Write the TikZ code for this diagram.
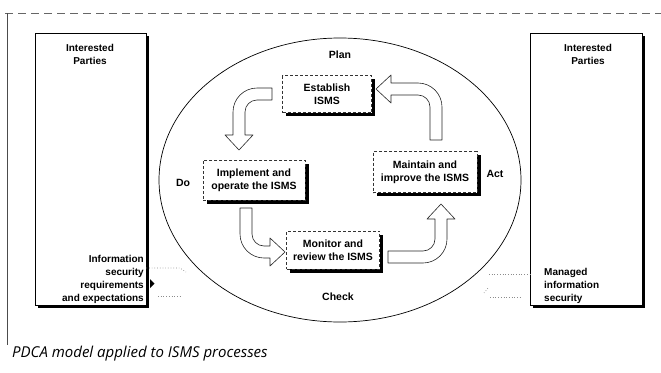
\documentclass[tikz,border=0pt]{standalone}
\usepackage{fontspec}
\setmainfont{Liberation Sans}
\newfontfamily\capfont{Open Sans}
\usetikzlibrary{shadows}
\newcommand{\bentarrow}[2]{%
  \draw[arrowline] (#1,0) -- (24,0) arc[start angle=270, end angle=180, radius=24]
    -- (0,#2) -- (-8,#2) -- (6,#2+15) -- (20,#2) -- (12,#2) -- (12,24)
    arc[start angle=180, end angle=270, radius=12] -- (#1,12) -- cycle;}
\begin{document}
\begin{tikzpicture}[x=1pt,y=-1pt,
  lbl/.style={font=\bfseries\fontsize{10}{13}\selectfont, inner sep=0pt, align=center},
  phase/.style={font=\bfseries\fontsize{10.5}{13}\selectfont, inner sep=0pt},
  stepbox/.style={font=\bfseries\fontsize{10.5}{13}\selectfont, align=center, inner sep=0pt,
     draw=black!80, densely dashed, line width=0.5pt, fill=white,
     drop shadow={shadow xshift=3.5pt, shadow yshift=-3.5pt, fill=black, opacity=1}},
  bigbox/.style={draw=black, line width=0.7pt, fill=white,
     drop shadow={shadow xshift=3pt, shadow yshift=-3pt, fill=black, opacity=1}},
  arrowline/.style={draw=black!85, line width=0.6pt, fill=white, line join=round},
  faint/.style={draw=black!45, line width=0.7pt, dotted}
]
\useasboundingbox (0,0) rectangle (661,372);
% frame
\draw[black!60, dash pattern=on 8pt off 5pt, line width=0.6pt] (5,13) -- (661,13);
\draw[black!70, line width=0.5pt] (7,13) -- (7,345);
% interested parties boxes
\node[bigbox, minimum width=111pt, minimum height=272pt, inner sep=0pt] (lbox) at (90.5,169) {};
\node[bigbox, minimum width=112pt, minimum height=272pt, inner sep=0pt] (rbox) at (586,169) {};
\node[lbl] (lip) at (90,54) {Interested\\Parties};
\node[lbl] (rip) at (588,54) {Interested\\Parties};
\node[lbl, align=right, anchor=north east] (req) at (144,255) {Information\\security\\requirements\\and expectations};
\node[lbl, align=left, anchor=north west] (man) at (544,268) {Managed\\information\\security};
% ellipse
\draw[black, line width=0.7pt] (340,180) ellipse [x radius=181, y radius=142];
% phase labels
\node[phase] (plan) at (340,55) {Plan};
\node[phase] (do) at (183,183) {Do};
\node[phase] (act) at (495,174) {Act};
\node[phase] (check) at (338,297) {Check};
% process boxes
\node[stepbox, minimum width=89pt, minimum height=37pt] (est) at (327,94) {Establish\\ISMS};
\node[stepbox, minimum width=102pt, minimum height=40pt] (imp) at (254,180) {Implement and\\operate the ISMS};
\node[stepbox, minimum width=104pt, minimum height=41pt] (mai) at (425,172) {Maintain and\\improve the ISMS};
\node[stepbox, minimum width=93pt, minimum height=38pt] (mon) at (333,250) {Monitor and\\review the ISMS};
% bent arrows
\begin{scope}[shift={(233,88)}]\bentarrow{39}{47}\end{scope}
\begin{scope}[shift={(240,258)}, rotate=90]\bentarrow{50}{30}\end{scope}
\begin{scope}[shift={(447,263)}, rotate=180]\bentarrow{59}{44}\end{scope}
\begin{scope}[shift={(442,83)}, rotate=270]\bentarrow{57}{51}\end{scope}
% input / output arrows (faint)
\coordinate (inA) at (lbox.east |- 0,268);
\coordinate (inB) at (180,268);
\coordinate (inC) at (186,272);
\draw[faint] (inA) -- (inB) -- (inC);
\draw[faint] (158,296) -- (182,296);
\fill[black] (150,279) -- (154.5,283.5) -- (150,288) -- cycle;
\coordinate (outA) at (rbox.west |- 0,274);
\draw[faint] (489,274) -- (outA);
\draw[faint] (490,297) -- (520,297);
\draw[faint] (484,293) -- (488,288);
% caption
\node[anchor=base west, inner sep=0pt, text=black, font=\capfont\itshape\fontsize{15}{18}\selectfont] (cap) at (12,357) {PDCA model applied to ISMS processes};
\end{tikzpicture}
\end{document}
